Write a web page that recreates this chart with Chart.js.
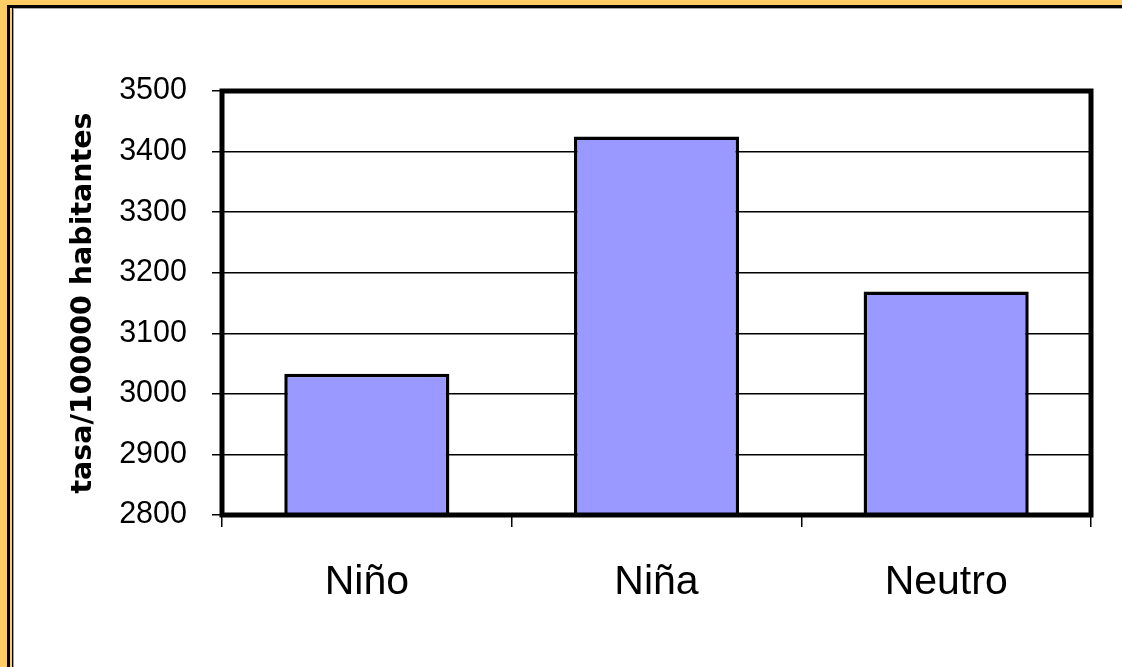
<!DOCTYPE html>
<html>
<head>
<meta charset="utf-8">
<script src="https://cdn.jsdelivr.net/npm/chart.js@4/dist/chart.umd.min.js"></script>
<style>
  html, body { margin: 0; padding: 0; }
  body { width: 1122px; height: 667px; background: #FFCC66; position: relative; overflow: hidden; }
  .p { position: absolute; }
  #c { position: absolute; left: 0; top: 0; }
</style>
</head>
<body>
<div class="p" style="left:14px;top:9px;right:0;bottom:0;background:#fff"></div>
<div class="p" style="left:7px;top:5px;right:0;height:3px;background:#000"></div>
<div class="p" style="left:7px;top:5px;width:3px;bottom:0;background:#000"></div>
<div class="p" style="left:12px;top:8px;width:1px;bottom:0;background:#000"></div>
<div class="p" style="left:13px;top:8px;width:1px;bottom:0;background:#a0a0a0"></div>
<div class="p" style="left:13px;top:8px;right:0;height:1px;background:#a8a8a8"></div>
<canvas id="c" width="1122" height="667"></canvas>
<script>
const categories = ["Niño", "Niña", "Neutro"];
const tasaValues = [3033, 3425, 3169];
const yMin = 2800, yMax = 3500, yStep = 100;
const yTitle = "tasa/100000 habitantes";

const framePlugin = {
  id: 'frame',
  afterDatasetsDraw(chart) {
    const a = chart.chartArea, ctx = chart.ctx;
    ctx.save();
    ctx.strokeStyle = '#000';
    ctx.lineWidth = 5;
    ctx.lineJoin = 'miter';
    ctx.strokeRect(a.left, a.top, a.right - a.left, a.bottom - a.top);
    ctx.restore();
  }
};

new Chart(document.getElementById('c'), {
  type: 'bar',
  data: {
    labels: categories,
    datasets: [{
      data: tasaValues,
      backgroundColor: '#9999FF',
      borderColor: '#000',
      borderWidth: 3.5,
      borderSkipped: false,
      barPercentage: 0.57,
      categoryPercentage: 1.0
    }]
  },
  options: {
    responsive: false,
    animation: false,
    devicePixelRatio: 1,
    layout: { padding: { top: 91, right: 31, left: 0, bottom: 0 } },
    plugins: { legend: { display: false }, tooltip: { enabled: false } },
    scales: {
      x: {
        grid: { drawOnChartArea: false, drawTicks: true, tickLength: 12, color: '#000', lineWidth: 1.5, offset: true },
        border: { display: false },
        ticks: { color: '#000', font: { family: 'Liberation Sans, Arial, sans-serif', size: 41 }, padding: 31 },
        afterFit(s) { s.height = 667 - 515; }
      },
      y: {
        min: yMin, max: yMax,
        grid: { color: '#000', lineWidth: 1.5, tickLength: 10 },
        border: { display: false },
        ticks: {
          stepSize: yStep, color: '#000',
          font: { family: 'Liberation Sans, Arial, sans-serif', size: 30.5 },
          padding: 25,
          callback: v => String(v)
        },
        title: {
          display: true, text: yTitle, color: '#000',
          font: { family: 'DejaVu Sans', size: 28.5, weight: 'bold' },
          padding: { top: 66, bottom: 0 }
        },
        afterFit(s) { s.width = 222; }
      }
    }
  },
  plugins: [framePlugin]
});
</script>
</body>
</html>
